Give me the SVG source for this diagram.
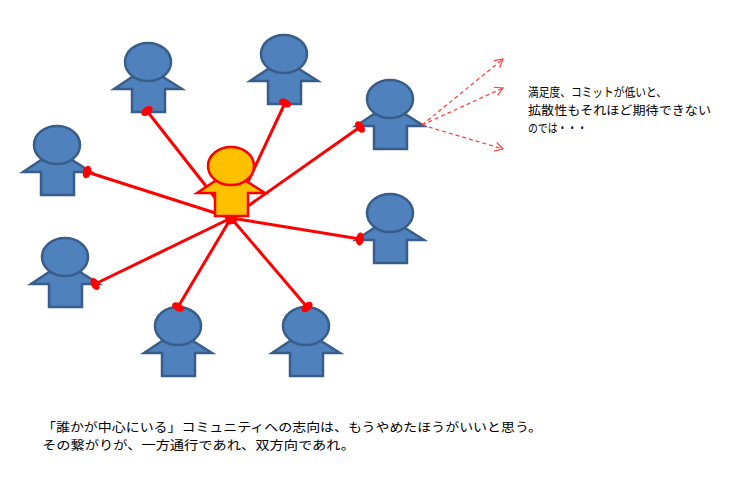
<svg xmlns="http://www.w3.org/2000/svg" width="732" height="478" viewBox="0 0 732 478">
<style>
.pb{fill:#4f81bd;stroke:#385d8a;stroke-width:2.5;stroke-linejoin:miter}
.po{fill:#ffc000;stroke:#ff0000;stroke-width:2.5;stroke-linejoin:miter}
.link{stroke:#ff0000;stroke-width:3;fill:none;marker-start:url(#oval);marker-end:url(#oval)}
.dash{stroke:#ff3b3b;stroke-width:1.2;fill:none;stroke-dasharray:4 3;marker-end:url(#open)}
.t{font-family:"Noto Sans CJK JP","Noto Sans",sans-serif;fill:#000}
</style>
<defs>
<path id="body" d="M-34,27 L-16,15 L15,15 L34,27 L17,27 L17,50 L-16,50 L-16,27 Z"/>
<marker id="oval" markerUnits="userSpaceOnUse" markerWidth="10" markerHeight="14" viewBox="-5 -7 10 14" refX="0" refY="0" orient="auto">
<ellipse cx="0" cy="0" rx="4" ry="6.5" fill="#ff0000"/>
</marker>
<marker id="open" markerUnits="userSpaceOnUse" markerWidth="12" markerHeight="12" viewBox="-10 -6 12 12" refX="0" refY="0" orient="auto">
<path d="M-8,-4.5 L0,0 L-8,4.5" fill="none" stroke="#ff3b3b" stroke-width="1.2"/>
</marker>
</defs>
<rect width="732" height="478" fill="#ffffff"/>

<g id="person1" class="pb" transform="translate(148,62)"><use href="#body"/><ellipse rx="23" ry="19"/></g>
<g id="person2" class="pb" transform="translate(284,54)"><use href="#body"/><ellipse rx="23" ry="19"/></g>
<g id="person3" class="pb" transform="translate(390,99)"><use href="#body"/><ellipse rx="23" ry="19"/></g>
<g id="person4" class="pb" transform="translate(57,145)"><use href="#body"/><ellipse rx="23" ry="19"/></g>
<g id="person5" class="pb" transform="translate(390,213)"><use href="#body"/><ellipse rx="23" ry="19"/></g>
<g id="person6" class="pb" transform="translate(65,257)"><use href="#body"/><ellipse rx="23" ry="19"/></g>
<g id="person7" class="pb" transform="translate(178,326)"><use href="#body"/><ellipse rx="23" ry="19"/></g>
<g id="person8" class="pb" transform="translate(306,326)"><use href="#body"/><ellipse rx="23" ry="19"/></g>

<g id="connectors">
<line class="link" x1="231" y1="218" x2="147" y2="111"/>
<line class="link" x1="231" y1="218" x2="285" y2="103"/>
<line class="link" x1="231" y1="218" x2="360" y2="127"/>
<line class="link" x1="231" y1="218" x2="87" y2="172"/>
<line class="link" x1="231" y1="218" x2="360" y2="239"/>
<line class="link" x1="231" y1="218" x2="95" y2="284"/>
<line class="link" x1="231" y1="218" x2="178" y2="307"/>
<line class="link" x1="231" y1="218" x2="307" y2="307"/>
<line class="dash" x1="422" y1="125" x2="503" y2="59"/>
<line class="dash" x1="422" y1="125" x2="503" y2="88"/>
<line class="dash" x1="422" y1="125" x2="503" y2="149"/>
</g>

<g id="center" class="po" transform="translate(231,166)"><use href="#body"/><ellipse rx="23" ry="19"/></g>

<g id="note">
<text class="t" font-size="12.5"><tspan x="528" y="97" textLength="139" lengthAdjust="spacingAndGlyphs">満足度、コミットが低いと、</tspan><tspan x="528" y="115" textLength="183" lengthAdjust="spacingAndGlyphs">拡散性もそれほど期待できない</tspan><tspan x="528" y="133" textLength="59" lengthAdjust="spacingAndGlyphs">のでは・・・</tspan></text>
</g>
<g id="caption">
<text class="t" font-size="12.5"><tspan x="42" y="432" textLength="500" lengthAdjust="spacingAndGlyphs">「誰かが中心にいる」コミュニティへの志向は、もうやめたほうがいいと思う。</tspan><tspan x="42" y="450" textLength="313" lengthAdjust="spacingAndGlyphs">その繋がりが、一方通行であれ、双方向であれ。</tspan></text>
</g>
</svg>
